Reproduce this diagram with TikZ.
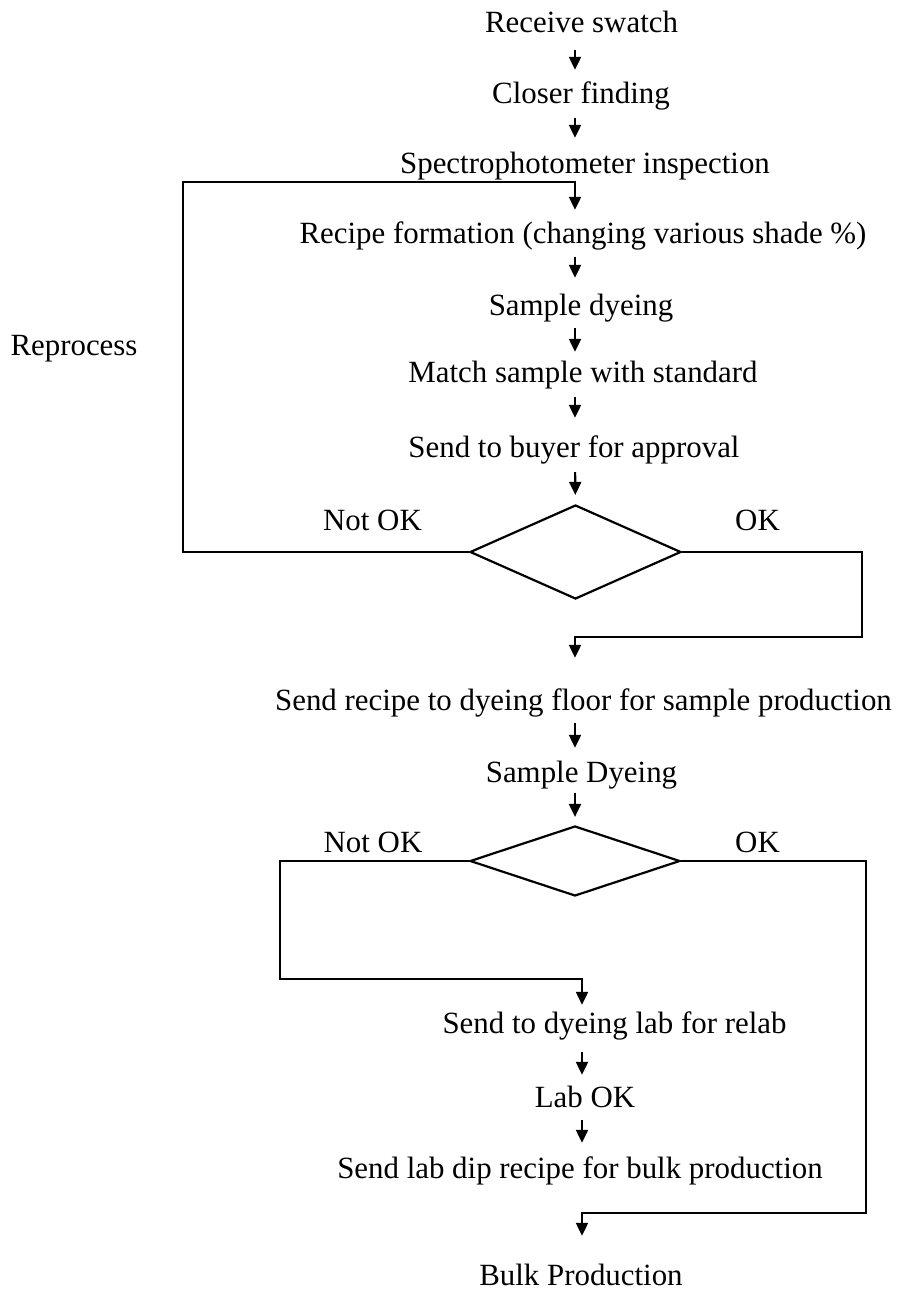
\documentclass[tikz,border=0pt]{standalone}
\usepackage{fontspec}
\setmainfont{Liberation Serif}
\usetikzlibrary{arrows.meta,shapes.geometric}
\begin{document}
\begin{tikzpicture}[x=1bp,y=-1bp,
  every node/.style={font=\fontsize{31}{37}\selectfont, inner sep=0pt},
  txt/.style={anchor=base, text height=21bp, text depth=7bp},
  lbl/.style={anchor=base},
  dia/.style={draw, shape=diamond, line width=2.2bp, inner sep=0pt},
  arr/.style={line width=2.2bp, -{Triangle[length=13bp,width=12bp]}},
  gap/.style 2 args={shorten <=#1bp, shorten >=#2bp}]
\useasboundingbox (0,0) rectangle (900,1292);
\coordinate (c1) at (575,0);
\coordinate (c2) at (582,0);
% texts
\node[txt] (n1) at (581.5,32) {Receive swatch};
\node[txt] (n2) at (581,103) {Closer finding};
\node[txt] (n3) at (585,173) {Spectrophotometer inspection};
\node[txt] (n4) at (583,243) {Recipe formation (changing various shade \%)};
\node[txt] (n5) at (581,315) {Sample dyeing};
\node[txt] (n6) at (583,382) {Match sample with standard};
\node[txt] (n7) at (574,457) {Send to buyer for approval};
\node[dia, minimum width=211bp, minimum height=94bp] (d1) at (575.5,552) {};
\node[txt] (n8) at (583.5,710) {Send recipe to dyeing floor for sample production};
\node[txt] (n9) at (581.5,782) {Sample Dyeing};
\node[dia, minimum width=210bp, minimum height=70bp] (d2) at (575,861) {};
\node[txt] (n10) at (614.5,1033) {Send to dyeing lab for relab};
\node[txt] (n11) at (585,1107) {Lab OK};
\node[txt] (n12) at (580,1178) {Send lab dip recipe for bulk production};
\node[txt] (n13) at (581,1285) {Bulk Production};
% labels
\node[lbl] (rep) at (74,355) {Reprocess};
\node[lbl] (no1) at (372.5,530) {Not OK};
\node[lbl] (ok1) at (757.5,530) {OK};
\node[lbl] (no2) at (373,852) {Not OK};
\node[lbl] (ok2) at (757.5,852) {OK};
% loop corners
\coordinate (r1) at (183,182);
\coordinate (r2) at (862,637);
\coordinate (r3) at (280,979);
\coordinate (r4) at (866,1213);
% straight arrows
\draw[arr, gap={11}{12}] (n1.south -| c1) -- (n2.north -| c1);
\draw[arr, gap={8}{14}] (n2.south -| c1) -- (n3.north -| c1);
\draw[arr, gap={7}{16}] (n4.south -| c1) -- (n5.north -| c1);
\draw[arr, gap={6}{9}] (n5.south -| c1) -- (n6.north -| c1);
\draw[arr, gap={8}{18}] (n6.south -| c1) -- (n7.north -| c1);
\draw[arr, gap={8}{9}] (n7.south -| c1) -- (d1.north);
\draw[arr, gap={6}{13}] (n8.south -| c1) -- (n9.north -| c1);
\draw[arr, gap={4}{8}] (n9.south -| c1) -- (d2.north);
\draw[arr, gap={12}{11}] (n10.south -| c2) -- (n11.north -| c2);
\draw[arr, gap={6}{14}] (n11.south -| c2) -- (n12.north -| c2);
% loops
\draw[arr, shorten >=12bp] (d1.west) -| (r1) -| (n4.north -| c1);
\draw[arr, shorten >=31bp] (d1.east) -| (r2) -| (n8.north -| c1);
\draw[arr, shorten >=7bp] (d2.west) -| (r3) -| (n10.north -| c2);
\draw[arr, shorten >=28bp] (d2.east) -| (r4) -| (n13.north -| c2);
\end{tikzpicture}
\end{document}
